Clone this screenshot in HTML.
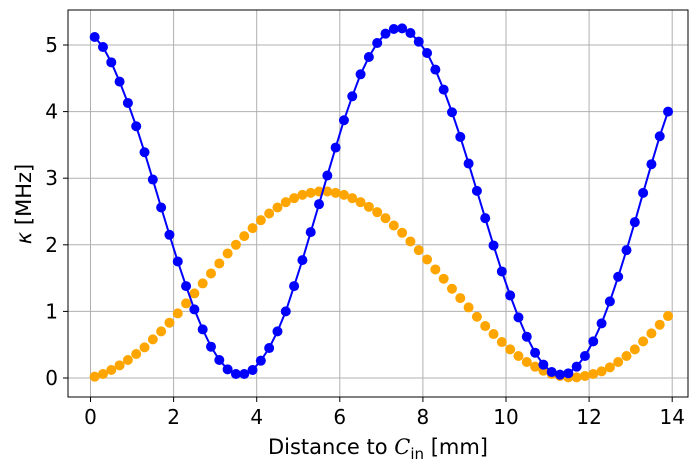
<!DOCTYPE html>
<html><head><meta charset="utf-8"><style>
html,body{margin:0;padding:0;background:#fff;}
svg{display:block;font-family:"DejaVu Sans","Liberation Sans",sans-serif;}
</style></head><body>
<svg id="chart" width="698" height="471">
<g id="grid"></g>
<g id="series"></g>
<rect x="68" y="10" width="620" height="387" fill="none" stroke="#000" stroke-width="1"/>
<g id="ticks"></g>
<text x="378" y="454" font-size="21" text-anchor="middle">Distance to <tspan font-family="DejaVu Serif, serif" font-style="italic">C</tspan><tspan font-size="15" dy="5">in</tspan><tspan dy="-5"> [mm]</tspan></text>
<text transform="translate(31,204) rotate(-90)" font-size="21" text-anchor="middle"><tspan font-style="italic">κ</tspan> [MHz]</text>
</svg>
<script>
const xValues = [0.1,0.3,0.5,0.7,0.9,1.1,1.3,1.5,1.7,1.9,2.1,2.3,2.5,2.7,2.9,3.1,3.3,3.5,3.7,3.9,4.1,4.3,4.5,4.7,4.9,5.1,5.3,5.5,5.7,5.9,6.1,6.3,6.5,6.7,6.9,7.1,7.3,7.5,7.7,7.9,8.1,8.3,8.5,8.7,8.9,9.1,9.3,9.5,9.7,9.9,10.1,10.3,10.5,10.7,10.9,11.1,11.3,11.5,11.7,11.9,12.1,12.3,12.5,12.7,12.9,13.1,13.3,13.5,13.7,13.9];
const blueValues = [5.12,4.97,4.74,4.45,4.13,3.78,3.39,2.98,2.56,2.15,1.75,1.38,1.03,0.73,0.47,0.27,0.13,0.06,0.06,0.12,0.26,0.45,0.70,1.00,1.38,1.77,2.19,2.61,3.04,3.46,3.87,4.23,4.56,4.82,5.03,5.17,5.24,5.25,5.18,5.05,4.88,4.63,4.33,3.99,3.62,3.22,2.81,2.40,1.99,1.60,1.24,0.91,0.62,0.38,0.20,0.09,0.05,0.07,0.17,0.33,0.55,0.82,1.15,1.52,1.92,2.34,2.78,3.21,3.63,4.00];
const orangeValues = [0.02,0.06,0.12,0.19,0.27,0.36,0.46,0.58,0.70,0.83,0.97,1.12,1.27,1.42,1.57,1.72,1.87,2.00,2.13,2.25,2.37,2.47,2.56,2.64,2.70,2.75,2.78,2.80,2.80,2.78,2.75,2.70,2.64,2.57,2.49,2.40,2.29,2.18,2.05,1.92,1.78,1.63,1.49,1.34,1.20,1.06,0.92,0.78,0.66,0.54,0.43,0.33,0.24,0.17,0.11,0.06,0.03,0.01,0.01,0.03,0.06,0.10,0.16,0.24,0.33,0.43,0.55,0.67,0.80,0.93];
const xTicks = [0,2,4,6,8,10,12,14];
const yTicks = [0,1,2,3,4,5];

const NS = "http://www.w3.org/2000/svg";
function xs(v){return 90.5 + v*41.55;}
function ys(v){return 378 - v*66.6;}
function mk(tag, attrs, parent){const e=document.createElementNS(NS,tag);for(const k in attrs)e.setAttribute(k,attrs[k]);parent.appendChild(e);return e;}
const grid=document.getElementById('grid'), ticks=document.getElementById('ticks'), series=document.getElementById('series');
xTicks.forEach(t=>{
  const x=xs(t);
  const g=mk('line',{x1:x,x2:x,y1:10,y2:397,stroke:'#b0b0b0','stroke-width':1},grid);
  
  
  const tk=mk('line',{x1:x,x2:x,y1:397,y2:402,stroke:'#000'},ticks);
  
  
  const lb=mk('text',{x:x,y:424,'font-size':20,'text-anchor':'middle'},ticks);
  lb.textContent=t;
  
  
});
yTicks.forEach(t=>{
  const y=ys(t);
  const g=mk('line',{x1:68,x2:688,y1:y,y2:y,stroke:'#b0b0b0','stroke-width':1},grid);
  
  
  const tk=mk('line',{x1:63,x2:68,y1:y,y2:y,stroke:'#000'},ticks);
  
  
  const lb=mk('text',{x:58,y:y+7,'font-size':20,'text-anchor':'end'},ticks);
  lb.textContent=t;
  
  
});
function drawSeries(vals,color,name,line){
  if(line){
    const pl=mk('polyline',{points:vals.map((v,i)=>xs(xValues[i])+','+ys(v)).join(' '),fill:'none',stroke:color,'stroke-width':2},series);
    
    
  }
  vals.forEach((v,i)=>{
    const c=mk('circle',{cx:xs(xValues[i]),cy:ys(v),r:5,fill:color},series);
    
    
  });
}
drawSeries(orangeValues,'#ffa500','orange-series',false);
drawSeries(blueValues,'#0000ff','blue-series',true);
</script>
</body></html>
